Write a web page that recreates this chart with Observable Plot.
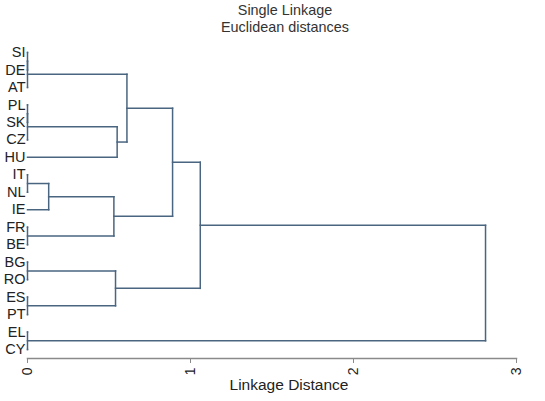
<!DOCTYPE html>
<html>
<head>
<meta charset="utf-8">
<script src="https://cdn.jsdelivr.net/npm/d3@7"></script>
<script src="https://cdn.jsdelivr.net/npm/@observablehq/plot@0.6"></script>
<style>
  body { margin: 0; background: #fff; font-family: "Liberation Sans", Arial, sans-serif; }
  #wrap { width: 545px; height: 401px; position: relative; overflow: hidden; }
  #title { position: absolute; left: 0; top: 2px; width: 570px; text-align: center; font-size: 14.4px; line-height: 17px; color: #333; }
  #chart { position: absolute; left: 0; top: 40px; }
</style>
</head>
<body>
<div id="wrap">
  <div id="title">Single Linkage<br>Euclidean distances</div>
  <div id="chart"></div>
</div>
<script>
// Leaves, in plotted order (top to bottom)
const leaves = ["SI","DE","AT","PL","SK","CZ","HU","IT","NL","IE","FR","BE","BG","RO","ES","PT","EL","CY"];
// Merge steps: ids, children and linkage heights
const mergeIds    = ["m1","m2","m3","m4","m5","m6","m7","m8","m9","m10","m11","m12","m13","m14","m15","m16","m17"];
const mergeLeft   = ["SI","m1","PL","m3","m4","m2","IT","m7","FR","m8","BG","ES","m11","m6","m14","EL","m15"];
const mergeRight  = ["DE","AT","SK","CZ","HU","m5","NL","IE","BE","m9","RO","PT","m12","m10","m13","CY","m16"];
const mergeHeight = [0, 0, 0, 0, 0.55, 0.61, 0, 0.13, 0, 0.53, 0, 0, 0.54, 0.89, 1.06, 0, 2.81];
const xTicks = [0, 1, 2, 3];

// Build node positions
const pos = new Map(), hgt = new Map();
leaves.forEach((l, i) => { pos.set(l, i); hgt.set(l, 0); });
const segs = [];
mergeIds.forEach((id, k) => {
  const a = mergeLeft[k], b = mergeRight[k], h = mergeHeight[k];
  const ya = pos.get(a), yb = pos.get(b);
  segs.push({x1: h, x2: h, y1: ya, y2: yb});
  segs.push({x1: hgt.get(a), x2: h, y1: ya, y2: ya});
  segs.push({x1: hgt.get(b), x2: h, y1: yb, y2: yb});
  pos.set(id, (ya + yb) / 2);
  hgt.set(id, h);
});

const lineColor = "#4a6580";
const chart = Plot.plot({
  width: 545,
  height: 361,
  marginLeft: 27,
  marginRight: 29,
  marginTop: 12,
  marginBottom: 43,
  style: { fontFamily: "Liberation Sans, Arial, sans-serif", fontSize: "14px", color: "#222", background: "transparent" },
  x: { domain: [0, 3] },
  y: { domain: [0, leaves.length - 1], range: [12, 309] },
  marks: [
    Plot.link(segs, {x1: "x1", x2: "x2", y1: "y1", y2: "y2", stroke: lineColor, strokeWidth: 1.5, strokeLinecap: "square"}),
    Plot.frame({anchor: "bottom", stroke: "#8a8a8a", strokeWidth: 1.5}),
    Plot.axisX({ticks: xTicks, tickFormat: d => String(d), tickRotate: -90, tickSize: 5, tickPadding: 4, stroke: "#8a8a8a", label: null, fontSize: 14}),
    Plot.axisY({ticks: d3.range(leaves.length), tickFormat: i => leaves[i], tickSize: 0, tickPadding: 2, label: null, fontSize: 14.5}),
    Plot.text(["Linkage Distance"], {frameAnchor: "bottom", dx: 17, dy: 31, fontSize: 15.5, fill: "#222"})
  ]
});
document.getElementById("chart").appendChild(chart);
</script>
</body>
</html>
